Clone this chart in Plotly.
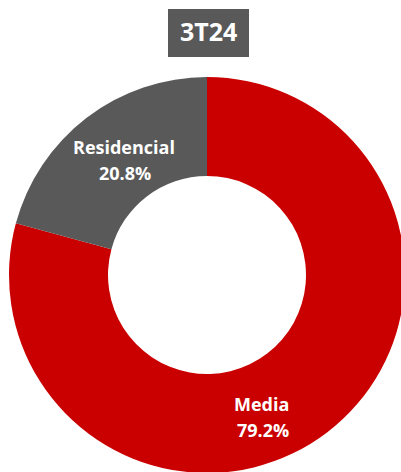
import plotly.graph_objects as go

# Segment shares for the quarter
period = "3T24"
segments = ["Media", "Residencial"]
shares = [79.2, 20.8]
colors = ["#CA0000", "#595959"]

W, H = 410, 480

fig = go.Figure(
    go.Pie(
        labels=segments,
        values=shares,
        hole=0.5,
        sort=False,
        direction="clockwise",
        rotation=0,
        marker=dict(colors=colors, line=dict(width=0)),
        textinfo="none",
        hoverinfo="label+percent",
        showlegend=False,
        domain=dict(x=[9 / W, 405 / W], y=[1 - 473 / H, 1 - 77 / H]),
    )
)

label_font = dict(family="Open Sans", size=18, color="white")
# (x, y of name line, x of value line, y of value line) in pixels
label_pos = {"Media": (261, 404, 263, 430), "Residencial": (124, 147, 125, 173)}
for name, val in zip(segments, shares):
    nx, ny, vx, vy = label_pos[name]
    for txt, px, py in ((name, nx, ny), (f"{val:.1f}%", vx, vy)):
        fig.add_annotation(
            x=px / W, y=1 - py / H, xref="paper", yref="paper",
            text=f"<b>{txt}</b>",
            showarrow=False, font=label_font,
            xanchor="center", yanchor="middle",
        )

# Title badge
fig.add_shape(
    type="rect", xref="paper", yref="paper",
    x0=168 / W, x1=249 / W, y0=1 - 57 / H, y1=1 - 9 / H,
    fillcolor="#595959", line=dict(width=0), layer="above",
)
fig.add_annotation(
    x=208.5 / W, y=1 - 31 / H, xref="paper", yref="paper",
    text=f"<b>{period}</b>", showarrow=False,
    font=dict(family="Open Sans", size=25, color="white"),
    xanchor="center", yanchor="middle",
)

fig.update_layout(
    width=W, height=H,
    margin=dict(l=0, r=0, t=0, b=0),
    paper_bgcolor="white", plot_bgcolor="white",
)

fig.write_html("out.html")
